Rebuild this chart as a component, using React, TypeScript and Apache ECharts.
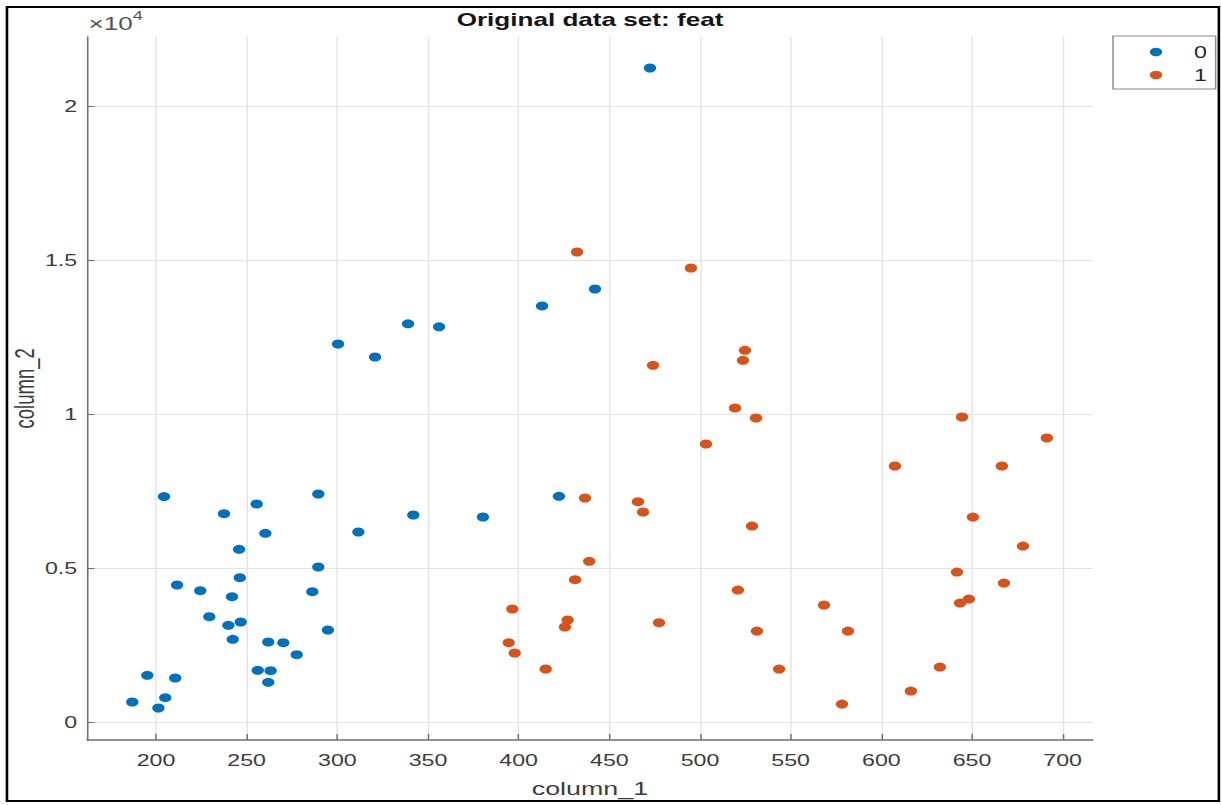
import React, { useEffect, useRef } from "react";
import * as echarts from "echarts";

// Figure is drawn at a narrower width and stretched horizontally to 1221 px.
const STRETCH = 1.45;
const FULL_W = 1221;
const FULL_H = 805;
const W = FULL_W / STRETCH;

const chartTitle = "Original data set: feat";
const xName = "column_1";
const yName = "column_2";
const classNames = ["0", "1"];

const xTicks = [200, 250, 300, 350, 400, 450, 500, 550, 600, 650, 700];
const yTicks = [0, 5000, 10000, 15000, 20000];
const xRange = [162.1, 716.5];
const yRange = [-575, 22274];

// class 0
const class0X = [
  472.4, 442.1, 412.9, 339.0, 356.1, 300.4, 320.8, 422.2, 341.9, 380.3,
  204.4, 289.5, 255.5, 237.5, 260.3, 245.8, 311.6, 289.5, 246.2, 211.6,
  224.4, 241.9, 286.2, 229.4, 239.9, 246.7, 242.3, 294.8, 261.9, 270.2,
  277.6, 256.1, 263.2, 261.9, 195.2, 210.6, 186.9, 205.1, 201.3,
];
const class0Y = [
  21257, 14077, 13528, 12945, 12848, 12291, 11868, 7343, 6735, 6670,
  7334, 7417, 7092, 6777, 6140, 5620, 6183, 5046, 4699, 4461,
  4276, 4082, 4244, 3432, 3151, 3259, 2697, 2999, 2609, 2587,
  2197, 1689, 1677, 1300, 1527, 1439, 660, 799, 465,
];

// class 1
const class1X = [
  436.6, 465.8, 468.6, 438.9, 431.1, 396.5, 427.0, 425.5, 477.4, 394.5,
  397.8, 414.9, 432.2, 495.0, 524.8, 523.7, 474.1, 519.3, 530.9, 503.3,
  644.5, 691.3, 607.5, 666.5, 528.7, 650.5, 678.1, 641.7, 667.6, 648.3,
  643.4, 520.9, 568.4, 531.4, 581.6, 543.6, 632.3, 616.3, 578.3,
];
const class1Y = [
  7287, 7167, 6832, 5231, 4633, 3681, 3324, 3096, 3236, 2587,
  2251, 1732, 15279, 14759, 12086, 11761, 11599, 10211, 9886, 9041,
  9919, 9237, 8327, 8327, 6375, 6667, 5725, 4880, 4522, 4002,
  3873, 4295, 3808, 2963, 2963, 1728, 1793, 1013, 591,
];

const classColors = ["#0072BD", "#D95319"];

const FONT = "'Liberation Sans', Arial, Helvetica, sans-serif";
const AXIS_GRAY = "#6f6f6f";
const LABEL_GRAY = "#3c3c3c";
const GRID_GRAY = "#e4e4e4";

const zip = (xs: number[], ys: number[]) => xs.map((x, i) => [x, ys[i]]);

export default function App() {
  const ref = useRef<HTMLDivElement>(null);

  useEffect(() => {
    if (!ref.current) return;
    const chart = echarts.init(ref.current, null, { renderer: "svg" });

    const gridLeft = 60.2;
    const gridRight = 88.5;
    const plotCenter = (gridLeft + (W - gridRight)) / 2;

    chart.setOption({
      animation: false,
      backgroundColor: "#ffffff",
      textStyle: { fontFamily: FONT },
      title: {
        text: chartTitle,
        left: plotCenter,
        textAlign: "center",
        top: 11,
        padding: 0,
        textStyle: {
          fontFamily: FONT,
          fontSize: 18,
          fontWeight: "bold",
          color: "#141414",
        },
      },
      grid: {
        left: gridLeft,
        right: gridRight,
        top: 36.7,
        bottom: 65,
        containLabel: false,
        outerBoundsMode: "none",
      },
      legend: {
        orient: "vertical",
        left: 767.6,
        top: 36,
        padding: [8, 6, 6, 25.4],
        itemGap: 7,
        itemWidth: 8.5,
        itemHeight: 9,
        backgroundColor: "#ffffff",
        borderColor: "#8a8a8a",
        borderWidth: 1,
        borderRadius: 0,
        icon: "circle",
        itemStyle: { opacity: 1 },
        textStyle: {
          fontFamily: FONT,
          fontSize: 16,
          lineHeight: 16,
          color: "#262626",
          padding: [0, 0, 0, 17],
        },
        data: classNames,
      },
      xAxis: {
        type: "value",
        min: xRange[0],
        max: xRange[1],
        name: xName,
        nameLocation: "middle",
        nameGap: 39,
        nameMoveOverlap: false,
        nameTextStyle: { fontFamily: FONT, fontSize: 18.5, color: LABEL_GRAY },
        axisLine: { show: true, onZero: false, lineStyle: { color: AXIS_GRAY, width: 1.5 } },
        axisTick: {
          show: true,
          inside: true,
          length: 6,
          customValues: xTicks,
          lineStyle: { color: AXIS_GRAY, width: 1 },
        },
        axisLabel: {
          customValues: xTicks,
          margin: 12,
          fontFamily: FONT,
          fontSize: 16,
          color: LABEL_GRAY,
        },
        splitLine: { show: true, lineStyle: { color: GRID_GRAY, width: 1 } },
      },
      yAxis: {
        type: "value",
        min: yRange[0],
        max: yRange[1],
        name: yName,
        nameLocation: "middle",
        nameGap: 34,
        nameMoveOverlap: false,
        nameRotate: 90,
        nameTextStyle: { fontFamily: FONT, fontSize: 18.5, color: LABEL_GRAY },
        axisLine: { show: true, onZero: false, lineStyle: { color: AXIS_GRAY, width: 1.1 } },
        axisTick: {
          show: true,
          inside: true,
          length: 5,
          customValues: yTicks,
          lineStyle: { color: AXIS_GRAY, width: 1 },
        },
        axisLabel: {
          customValues: yTicks,
          margin: 7,
          fontFamily: FONT,
          fontSize: 16,
          color: LABEL_GRAY,
          formatter: (v: number) => String(Math.round((v / 10000) * 10) / 10),
        },
        splitLine: { show: true, lineStyle: { color: GRID_GRAY, width: 1 } },
      },
      graphic: [
        {
          type: "text",
          left: 61,
          top: 15,
          z: 10,
          style: { text: "×10", fontFamily: FONT, fontSize: 18, fill: "#555555" },
        },
        {
          type: "text",
          left: 91.5,
          top: 9,
          z: 10,
          style: { text: "4", fontFamily: FONT, fontSize: 12.5, fill: "#555555" },
        },
        {
          type: "rect",
          z: 100,
          silent: true,
          shape: { x: 4.8, y: 7, width: 835.8, height: 794 },
          style: { fill: "none", stroke: "#000000", lineWidth: 1.8 },
        },
      ],
      series: [
        {
          name: classNames[0],
          type: "scatter",
          symbol: "circle",
          symbolSize: [8.5, 9],
          itemStyle: { color: classColors[0], opacity: 1 },
          data: zip(class0X, class0Y),
        },
        {
          name: classNames[1],
          type: "scatter",
          symbol: "circle",
          symbolSize: [8.5, 9],
          itemStyle: { color: classColors[1], opacity: 1 },
          data: zip(class1X, class1Y),
        },
      ],
    });

    return () => chart.dispose();
  }, []);

  return (
    <div
      style={{
        position: "absolute",
        left: 0,
        top: 0,
        width: FULL_W,
        height: FULL_H,
        overflow: "hidden",
        background: "#ffffff",
      }}
    >
      <div
        ref={ref}
        style={{
          width: W,
          height: FULL_H,
          transform: `scaleX(${STRETCH})`,
          transformOrigin: "0 0",
        }}
      />
    </div>
  );
}
